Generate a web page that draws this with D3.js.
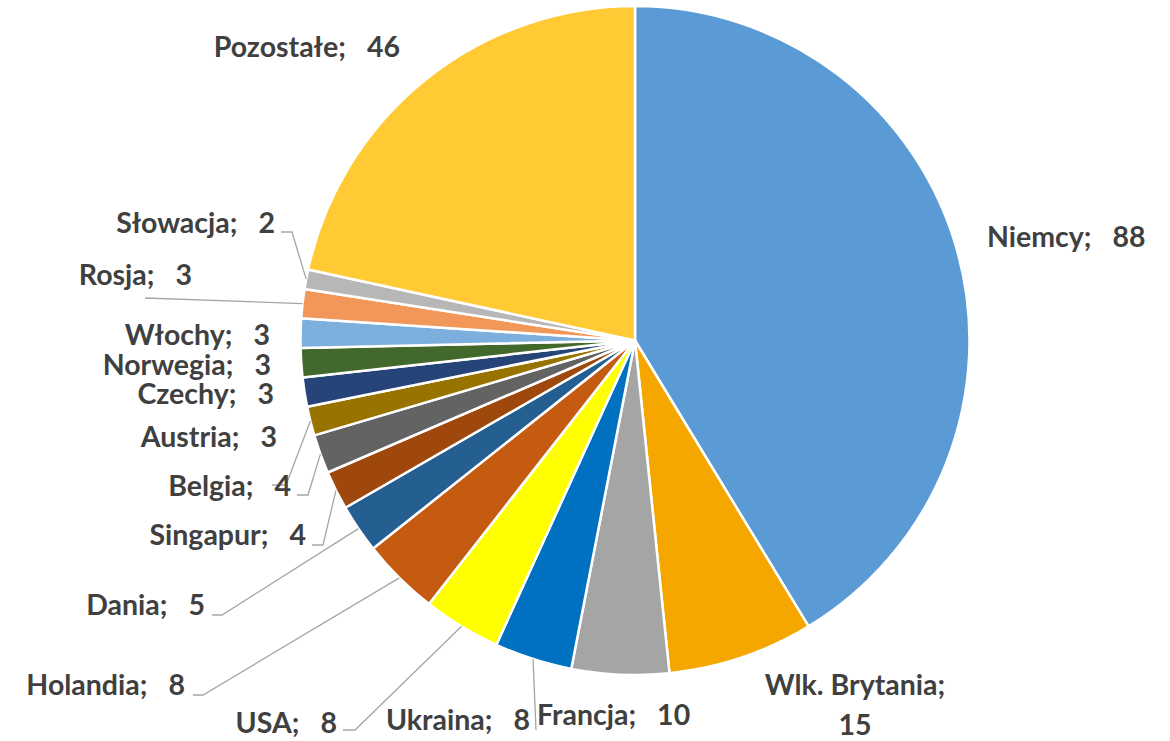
<!DOCTYPE html>
<html>
<head>
<meta charset="utf-8">
<script src="https://cdn.jsdelivr.net/npm/d3@7"></script>
<style>
  html, body { margin: 0; padding: 0; background: #ffffff; }
  svg { display: block; }
  .lbl { font-family: Lato, "Open Sans", sans-serif; font-weight: 700; font-size: 28.5px; fill: #404040; }
</style>
</head>
<body>
<svg id="chart" width="1170" height="741"></svg>
<script>
// ---- data ----
const categories = ["Niemcy", "Wlk. Brytania", "Francja", "Ukraina", "USA", "Holandia", "Dania", "Singapur",
  "Belgia", "Austria", "Czechy", "Norwegia", "Włochy", "Rosja", "Słowacja", "Pozostałe"];
const values = [88, 15, 10, 8, 8, 8, 5, 4, 4, 3, 3, 3, 3, 3, 2, 46];
const colors = ["#5B9BD5", "#F5A700", "#A5A5A5", "#0070C0", "#FFFF00", "#C55A11", "#255E91", "#9E480E",
  "#636363", "#997300", "#264478", "#43682B", "#7CAFDD", "#F1975A", "#B7B7B7", "#FFCA33"];

// ---- label layout (anchor, x, baseline y) ----
const labelAnchor = ["start", "middle", "start", "end", "end", "end", "end", "end",
  "end", "end", "end", "end", "end", "end", "end", "end"];
const labelX = [987, 855, 537, 530, 337, 185, 205, 306, 291, 277, 274, 271, 270, 192, 275, 400];
const labelY = [247, 695, 725, 730, 733, 695, 615, 545, 496, 447, 404, 375, 345, 285, 233, 57];
// leader lines: start point near label, bend x (null = no horizontal part)
const leaderStart = {
  "Ukraina": [536, 730, null],
  "USA": [343, 730, 355],
  "Holandia": [193, 695, 203],
  "Dania": [212, 615, 222],
  "Singapur": [312, 545, 323],
  "Belgia": [297, 495, 308],
  "Austria": [272, 485, 286],
  "Rosja": [145, 298, null],
  "Słowacja": [281, 232, 292]
};

// ---- chart ----
const cx = 635, cy = 340.5, R = 334.5;
const svg = d3.select("#chart");
const g = svg.append("g").attr("transform", `translate(${cx},${cy})`);

const data = categories.map((c, i) => ({ name: c, value: values[i], color: colors[i], i }));
const pie = d3.pie().value(d => d.value).sort(null);
const arcs = pie(data);
const arc = d3.arc().innerRadius(0).outerRadius(R);

g.selectAll("path.slice").data(arcs).enter().append("path")
  .attr("class", "slice")
  .attr("d", arc)
  .attr("fill", d => d.data.color)
  .attr("stroke", "#ffffff")
  .attr("stroke-width", 2.5)
  .attr("stroke-linejoin", "round");

// leader lines
const lines = svg.append("g");
arcs.forEach(a => {
  const ls = leaderStart[a.data.name];
  if (!ls) return;
  const mid = (a.startAngle + a.endAngle) / 2;
  const ex = cx + Math.sin(mid) * R;
  const ey = cy - Math.cos(mid) * R;
  const pts = [[ls[0], ls[1]]];
  if (ls[2] !== null) pts.push([ls[2], ls[1]]);
  pts.push([ex, ey]);
  lines.append("path")
    .attr("d", d3.line()(pts))
    .attr("fill", "none")
    .attr("stroke", "#A6A6A6")
    .attr("stroke-width", 1.3);
});

// labels
const labels = svg.append("g");
arcs.forEach(a => {
  const i = a.data.i;
  const t = labels.append("text")
    .attr("class", "lbl")
    .attr("text-anchor", labelAnchor[i])
    .attr("x", labelX[i])
    .attr("y", labelY[i]);
  if (a.data.name === "Wlk. Brytania") {
    t.append("tspan").attr("x", labelX[i]).text(a.data.name + ";");
    t.append("tspan").attr("x", labelX[i]).attr("dy", 40).text(a.data.value);
  } else {
    t.append("tspan").text(a.data.name + ";");
    t.append("tspan").attr("dx", 21).text(a.data.value);
  }
});
</script>
</body>
</html>
